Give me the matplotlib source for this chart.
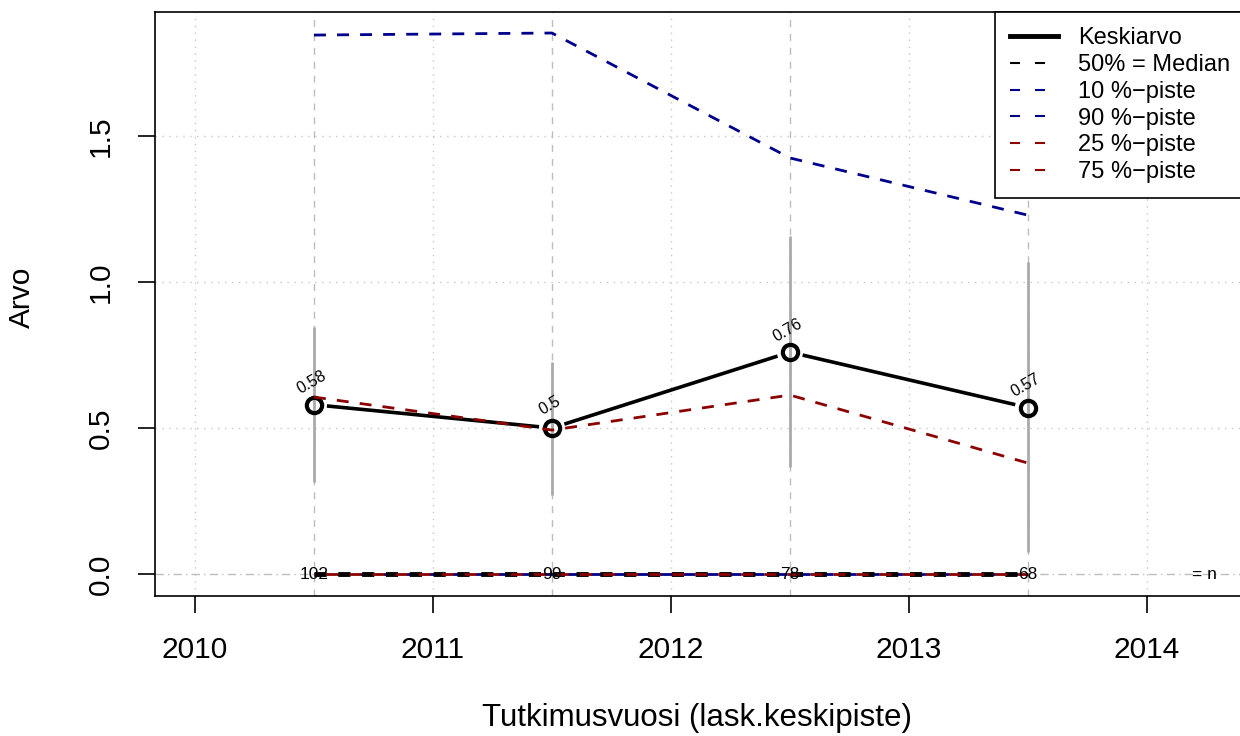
import numpy as np
import matplotlib.pyplot as plt
from matplotlib.lines import Line2D

plt.rcParams['font.family'] = ['Liberation Sans', 'DejaVu Sans']

vuodet = np.array([2010.5, 2011.5, 2012.5, 2013.5])
keskiarvo = np.array([0.58, 0.50, 0.76, 0.57])
mediaani = np.array([0.0, 0.0, 0.0, 0.0])
p10 = np.array([0.0, 0.0, 0.0, 0.0])
p90 = np.array([1.846, 1.853, 1.425, 1.229])
p25 = np.array([0.0, 0.0, 0.0, 0.0])
p75 = np.array([0.606, 0.493, 0.613, 0.380])
ala = np.array([0.315, 0.270, 0.366, 0.075])
yla = np.array([0.846, 0.726, 1.158, 1.068])
n = [102, 99, 78, 68]

W, H = 1240, 736
fig = plt.figure(figsize=(W / 100, H / 100), dpi=100)
ax = fig.add_axes([155 / W, 1 - 596 / H, (1240 - 155) / W, (596 - 12) / H])
ax.set_xlim(2009.832, 2014.391)
ax.set_ylim(-0.0753, 1.925)

# grid
for x in range(2010, 2015):
    ax.axvline(x, color='#c8c8c8', lw=1, ls=(0, (1, 4)), zorder=0)
for y in [0.5, 1.0, 1.5]:
    ax.axhline(y, color='#c8c8c8', lw=1, ls=(0, (1, 4)), zorder=0)
ax.axhline(0, color='#bdbdbd', lw=1, ls=(0, (6, 3, 1, 3)), zorder=0)
for x in vuodet:
    ax.axvline(x, color='#bdbdbd', lw=1, ls=(0, (5, 5)), zorder=0)

# vaihteluvälit
ax.vlines(vuodet, ala, yla, color='#aaaaaa', lw=2, zorder=1)

# keskiarvo, viiva katkaistu pisteiden kohdalta
fig.canvas.draw()
pts = ax.transData.transform(np.column_stack([vuodet, keskiarvo]))
gap = 13
for i in range(len(pts) - 1):
    a, b = pts[i], pts[i + 1]
    d = (b - a) / np.hypot(*(b - a))
    seg = ax.transData.inverted().transform(np.array([a + d * gap, b - d * gap]))
    ax.plot(seg[:, 0], seg[:, 1], color='black', lw=2.6, solid_capstyle='butt', zorder=3)
ax.plot(vuodet, keskiarvo, 'o', ms=11, mfc='none', mec='black', mew=3, zorder=4)

dash = (0, (4.3, 4.0))
ax.plot(vuodet, p10, color='#00008b', lw=2.0, ls=dash, zorder=4.5)
ax.plot(vuodet, mediaani, color='black', lw=3.5, ls=(0, (2.5, 2.4)), zorder=5)
ax.plot(vuodet, p90, color='#00008b', lw=2.0, ls=dash, zorder=5)
ax.plot(vuodet, p25, color='#8b0000', lw=2.0, ls=(4, (4.3, 4.0)), zorder=6)
ax.plot(vuodet, p75, color='#8b0000', lw=2.0, ls=dash, zorder=6)

for x, y in zip(vuodet, keskiarvo):
    ax.annotate(f'{y:g}', (x, y), xytext=(-1.5, 16), textcoords='offset points',
                ha='center', va='center', rotation=30, fontsize=11.5, zorder=7)
for x, k in zip(vuodet, n):
    ax.text(x, 0, str(k), ha='center', va='center', fontsize=12.5, zorder=7)
ax.text(2014.24, 0, '= n', ha='center', va='center', fontsize=12.5, zorder=7)

ax.set_xticks(range(2010, 2015))
ax.set_yticks([0.0, 0.5, 1.0, 1.5])
ax.set_yticklabels(['0.0', '0.5', '1.0', '1.5'], rotation=90, va='center')
ax.tick_params(axis='both', length=12, width=1.2, labelsize=21.5, pad=17)
ax.tick_params(axis='y', pad=17)
for s in ax.spines.values():
    s.set_linewidth(1.2)
ax.spines['right'].set_visible(False)

fig.text(697 / W, 1 - 718 / H, 'Tutkimusvuosi (lask.keskipiste)', ha='center', va='center', fontsize=22.5)
fig.text(22 / W, 1 - 297 / H, 'Arvo', ha='center', va='center', rotation=90, fontsize=21.5)

lhandle = (0, (4.8, 7.2))
handles = [
    Line2D([], [], color='black', lw=3.5),
    Line2D([], [], color='black', lw=1.5, ls=lhandle),
    Line2D([], [], color='#00008b', lw=1.5, ls=lhandle),
    Line2D([], [], color='#00008b', lw=1.5, ls=lhandle),
    Line2D([], [], color='#8b0000', lw=1.5, ls=lhandle),
    Line2D([], [], color='#8b0000', lw=1.5, ls=lhandle),
]
labels = ['Keskiarvo', '50% = Median', '10 %\u2212piste', '90 %\u2212piste',
          '25 %\u2212piste', '75 %\u2212piste']
leg = fig.legend(handles, labels, loc='upper left', bbox_to_anchor=(995 / W, 1 - 12 / H),
                 fontsize=17, frameon=True, fancybox=False, handlelength=2.0,
                 handletextpad=0.85, labelspacing=0.2, borderpad=0.65, borderaxespad=0)
leg.get_frame().set_edgecolor('black')
leg.get_frame().set_linewidth(1.2)
leg.get_frame().set_alpha(1)

fig.savefig('out.png', dpi=100)
